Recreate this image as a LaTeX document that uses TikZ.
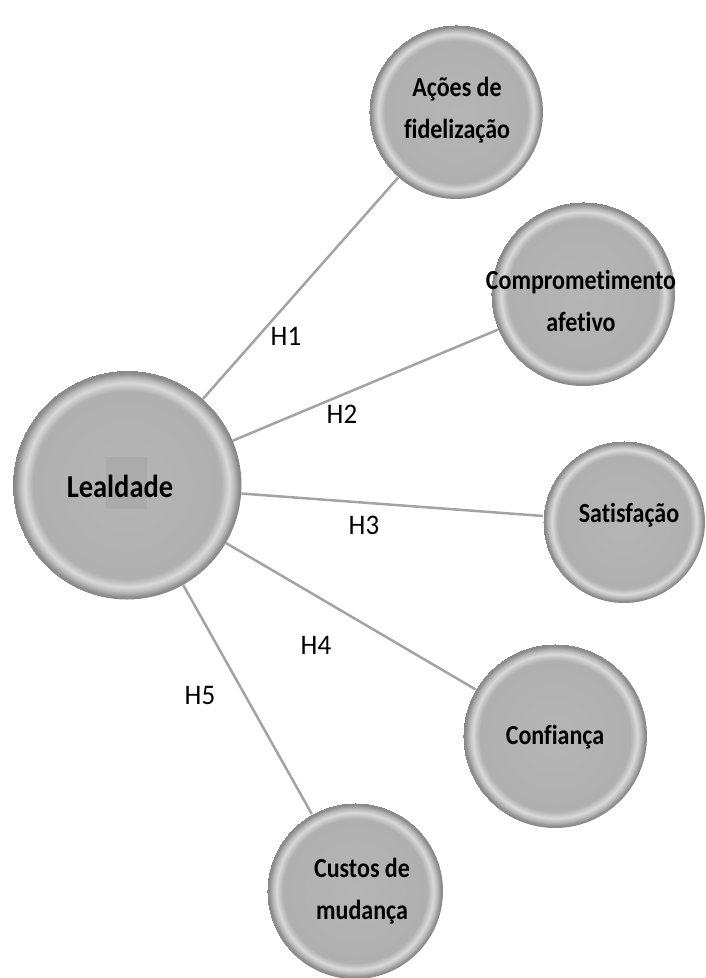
\documentclass[tikz,border=0pt]{standalone}
\usepackage{fontspec}
\setmainfont{Carlito}[Ligatures=NoCommon]

% greys for the bevelled bubbles and the links
\definecolor{bdIn}{gray}{0.71}
\definecolor{bdIn2}{gray}{0.69}
\definecolor{bdHi}{gray}{0.85}
\definecolor{bdMid}{gray}{0.74}
\definecolor{bdEdge}{gray}{0.56}
\definecolor{bdOut}{gray}{0.52}
\definecolor{linkgray}{gray}{0.64}
\definecolor{markgray}{gray}{0.67}

% bubble: flat grey face, bright bevel ring, dark rim
\pgfdeclareradialshading{bead}{\pgfpoint{0bp}{0bp}}{%
  color(0bp)=(bdIn);
  color(20.5bp)=(bdIn2);
  color(22.3bp)=(bdHi);
  color(23.3bp)=(bdMid);
  color(24.4bp)=(bdEdge);
  color(25bp)=(bdOut)}

\begin{document}
\begin{tikzpicture}[x=1pt,y=-1pt,
  bubble/.style={circle, draw=none, shading=bead, inner sep=0pt, minimum size=#1pt},
  bubtext/.style={font=\bfseries\fontsize{24}{36.5}\selectfont, align=center, text=black,
    inner sep=0pt, yscale=1.15, transform shape},
  maintext/.style={font=\bfseries\fontsize{28.5}{30}\selectfont, text=black,
    inner sep=0pt, yscale=1.12, transform shape},
  link/.style={draw=linkgray, line width=2.5pt},
  hyp/.style={font=\fontsize{27}{30}\selectfont, text=black, inner sep=0pt,
    yscale=1.05, transform shape}]

\useasboundingbox (0,0) rectangle (705,978);

% bubbles
\node[bubble=229] (L) at (127,485) {};
\node[bubble=174] (A) at (456,112) {};
\node[bubble=184] (C) at (583,294) {};
\node[bubble=162] (S) at (624,522) {};
\node[bubble=184] (F) at (555,736) {};
\node[bubble=176] (M) at (355,891) {};

% links from the central construct
\draw[link] (L) -- (A);
\draw[link] (L) -- (C);
\draw[link] (L) -- (S);
\draw[link] (L) -- (F);
\draw[link] (L) -- (M);

% shaded selection mark behind the central word
\fill[markgray] (106,457) rectangle (147,509);

% bubble texts
\node[maintext] (Lt) at (120,486) {Lealdade};
\node[bubtext] (At) at (457,110) {Ações de\\fidelização};
\node[bubtext] (Ct) at (581,301) {Comprometimento\\afetivo};
\node[bubtext] (St) at (629,515) {Satisfação};
\node[bubtext] (Ft) at (555,737) {Confiança};
\node[bubtext] (Mt) at (362,891) {Custos de\\mudança};

% hypothesis labels
\node[hyp] (h1) at (286,336) {H1};
\node[hyp] (h2) at (342,414) {H2};
\node[hyp] (h3) at (364,525) {H3};
\node[hyp] (h4) at (316,645) {H4};
\node[hyp] (h5) at (200,695) {H5};

\end{tikzpicture}
\end{document}
